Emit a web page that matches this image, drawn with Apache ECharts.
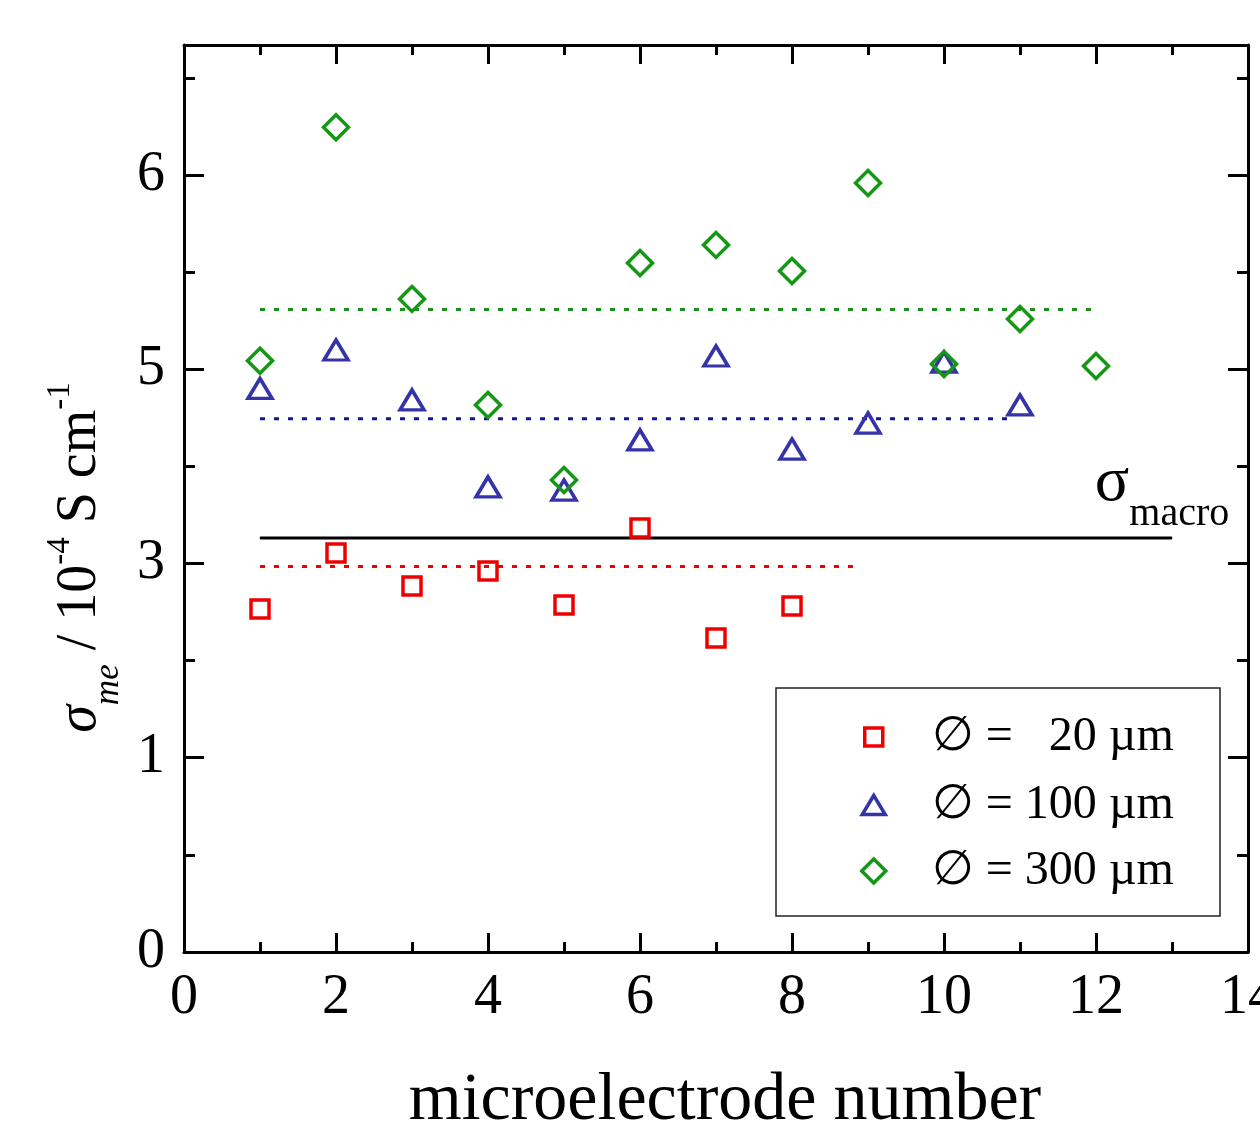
<!DOCTYPE html>
<html>
<head>
<meta charset="utf-8">
<script src="https://cdn.jsdelivr.net/npm/echarts@6/dist/echarts.min.js"></script>
<style>
html,body{margin:0;padding:0;background:#fff;}
#c{width:1260px;height:1125px;}
</style>
</head>
<body>
<div id="c"></div>
<script>
// ---- data (y values in axis position units; tick labels below map positions to the printed labels)
const electrodes20  = [1, 2, 3, 4, 5, 6, 7, 8];
const sigma20       = [1.766, 2.054, 1.884, 1.961, 1.786, 2.183, 1.616, 1.781];
const electrodes100 = [1, 2, 3, 4, 5, 6, 7, 8, 9, 10, 11];
const sigma100      = [2.901, 3.099, 2.842, 2.394, 2.378, 2.636, 3.068, 2.589, 2.723, 3.037, 2.816];
const electrodes300 = [1, 2, 3, 4, 5, 6, 7, 8, 9, 10, 11, 12];
const sigma300      = [3.044, 4.246, 3.362, 2.816, 2.430, 3.547, 3.640, 3.506, 3.959, 3.027, 3.259, 3.017];

const mean20  = 1.985, meanSpan20  = [1, 8.9];
const mean100 = 2.745, meanSpan100 = [1, 10.85];
const mean300 = 3.308, meanSpan300 = [1, 11.95];
const sigmaMacro = 2.131, macroSpan = [1, 13];

const yTickLabels = ['0', '1', '3', '5', '6'];
const seriesNames = ['\u2205 =   20 \u00b5m', '\u2205 = 100 \u00b5m', '\u2205 = 300 \u00b5m'];

// ---- styling
const FONT = "'Liberation Serif','Times New Roman','DejaVu Serif',serif";
const RED = '#ee0000', BLUE = '#3434a8', GREEN = '#149814';
const BLUE_DOT = '#16168c', GREEN_DOT = '#1a901a';
const Y_MAX = 4.669;

const pairs = (xs, ys) => xs.map((x, i) => [x, ys[i]]);
const tickStyle = {color: '#000', width: 3};
const frameLine = {show: true, onZero: false, lineStyle: {color: '#000', width: 3}};
const noLine = {show: false, onZero: false};

function yAxisDef(position, interval, len, withLine, withLabels) {
  const a = {
    type: 'value', position: position, min: 0, max: Y_MAX, interval: interval,
    axisLine: withLine ? frameLine : noLine,
    axisTick: {show: true, inside: true, length: len, lineStyle: tickStyle},
    splitLine: {show: false},
    axisLabel: {show: false}
  };
  if (withLabels) {
    a.axisLabel = {
      show: true, margin: 19, fontSize: 56, fontFamily: FONT, color: '#000',
      formatter: function (v) {
        const r = Math.round(v);
        return (Math.abs(v - r) < 1e-6 && yTickLabels[r] !== undefined) ? yTickLabels[r] : '';
      }
    };
    a.name = '{s|\u03c3}{sub|me}{n| / 10}{sup|-4}{n| S cm}{sup|-1}';
    a.nameLocation = 'middle';
    a.nameRotate = 90;
    a.nameGap = 68;
    a.nameTextStyle = {
      color: '#000', fontFamily: FONT, padding: [0, 118, 0, 0],
      rich: {
        s:   {fontSize: 56, fontStyle: 'italic', fontFamily: FONT, lineHeight: 56, color: '#000'},
        sub: {fontSize: 35, fontStyle: 'italic', fontFamily: FONT, lineHeight: 35, padding: [56, 0, 0, 0], color: '#000'},
        n:   {fontSize: 56, fontFamily: FONT, lineHeight: 56, color: '#000'},
        sup: {fontSize: 33, fontFamily: FONT, lineHeight: 33, padding: [0, 0, 40, 0], color: '#000'}
      }
    };
  }
  return a;
}

function xAxisDef(position, interval, len, withLine, withLabels) {
  const a = {
    type: 'value', position: position, min: 0, max: 14, interval: interval,
    axisLine: withLine ? frameLine : noLine,
    axisTick: {show: true, inside: true, length: len, lineStyle: tickStyle},
    splitLine: {show: false},
    axisLabel: {show: false}
  };
  if (withLabels) {
    a.axisLabel = {show: true, margin: 18, fontSize: 56, fontFamily: FONT, color: '#000'};
    a.name = 'microelectrode number';
    a.nameLocation = 'middle';
    a.nameGap = 115;
    a.nameTextStyle = {fontSize: 68, fontFamily: FONT, color: '#000', padding: [0, 0, 0, 18]};
  }
  return a;
}

function meanLine(span, value, color) {
  return {
    type: 'line', data: [[span[0], value], [span[1], value]],
    symbol: 'none', silent: true, z: 1,
    lineStyle: {color: color, width: 3, type: [5, 9]}
  };
}

const ICONS = ['rect', 'triangle', 'diamond'];
const COLORS = [RED, BLUE, GREEN];
const IW = [18, 23, 24], IH = [18, 19, 24];
const ROWS = [737, 805, 871];
const LEGEND_TEXT_X = 930;

const option = {
  animation: false,
  backgroundColor: '#fff',
  grid: {left: 184, right: 12, top: 45, bottom: 173, outerBoundsMode: 'none'},
  xAxis: [
    xAxisDef('bottom', 2, 19, true, true),
    xAxisDef('bottom', 1, 10, false, false),
    xAxisDef('top', 2, 19, true, false),
    xAxisDef('top', 1, 10, false, false)
  ],
  yAxis: [
    yAxisDef('left', 1, 20, true, true),
    yAxisDef('left', 0.5, 11, false, false),
    yAxisDef('right', 1, 20, true, false),
    yAxisDef('right', 0.5, 11, false, false)
  ],
  legend: seriesNames.map((name, i) => ({
    data: [{name: name, icon: ICONS[i],
            itemStyle: {color: 'rgba(0,0,0,0)', borderColor: COLORS[i], borderWidth: 3.5, opacity: 1}}],
    left: 872 - IW[i] / 2, top: ROWS[i] - 29, padding: 0,
    itemWidth: IW[i], itemHeight: IH[i],
    symbolKeepAspect: false, selectedMode: false,
    textStyle: {fontSize: 48, fontFamily: FONT, color: '#000', lineHeight: 40,
                padding: [18, 0, 0, LEGEND_TEXT_X - (872 + IW[i] / 2) - 5]}
  })),
  graphic: [{
    type: 'rect', silent: true, z: 100,
    shape: {x: 776, y: 688, width: 444, height: 228},
    style: {fill: 'none', stroke: '#222', lineWidth: 1.5}
  }],
  series: [
    meanLine(meanSpan20, mean20, RED),
    meanLine(meanSpan100, mean100, BLUE_DOT),
    meanLine(meanSpan300, mean300, GREEN_DOT),
    {
      type: 'line', silent: true, z: 2,
      data: [[macroSpan[0], sigmaMacro], {
        value: [macroSpan[1], sigmaMacro],
        label: {
          show: true, position: 'top', distance: 22, offset: [-10, 0],
          formatter: '{s|\u03c3}{m|macro}',
          rich: {
            s: {fontSize: 64, fontFamily: FONT, lineHeight: 64, color: '#000'},
            m: {fontSize: 40, fontFamily: FONT, lineHeight: 40, padding: [62, 0, 0, 0], color: '#000'}
          }
        }
      }],
      symbol: 'circle', symbolSize: 1, showSymbol: true,
      itemStyle: {color: '#000'},
      lineStyle: {color: '#000', width: 3}
    },
    {
      type: 'scatter', name: seriesNames[0], data: pairs(electrodes20, sigma20), z: 5,
      symbol: 'rect', symbolSize: 18,
      itemStyle: {color: 'rgba(0,0,0,0)', borderColor: RED, borderWidth: 3.5, opacity: 1}
    },
    {
      type: 'scatter', name: seriesNames[1], data: pairs(electrodes100, sigma100), z: 5,
      symbol: 'triangle', symbolSize: [24, 20],
      itemStyle: {color: 'rgba(0,0,0,0)', borderColor: BLUE, borderWidth: 3.5, opacity: 1}
    },
    {
      type: 'scatter', name: seriesNames[2], data: pairs(electrodes300, sigma300), z: 5,
      symbol: 'diamond', symbolSize: 25,
      itemStyle: {color: 'rgba(0,0,0,0)', borderColor: GREEN, borderWidth: 3.5, opacity: 1}
    }
  ]
};

const chart = echarts.init(document.getElementById('c'), null, {renderer: 'canvas', width: 1260, height: 1125});
chart.setOption(option);
</script>
</body>
</html>
